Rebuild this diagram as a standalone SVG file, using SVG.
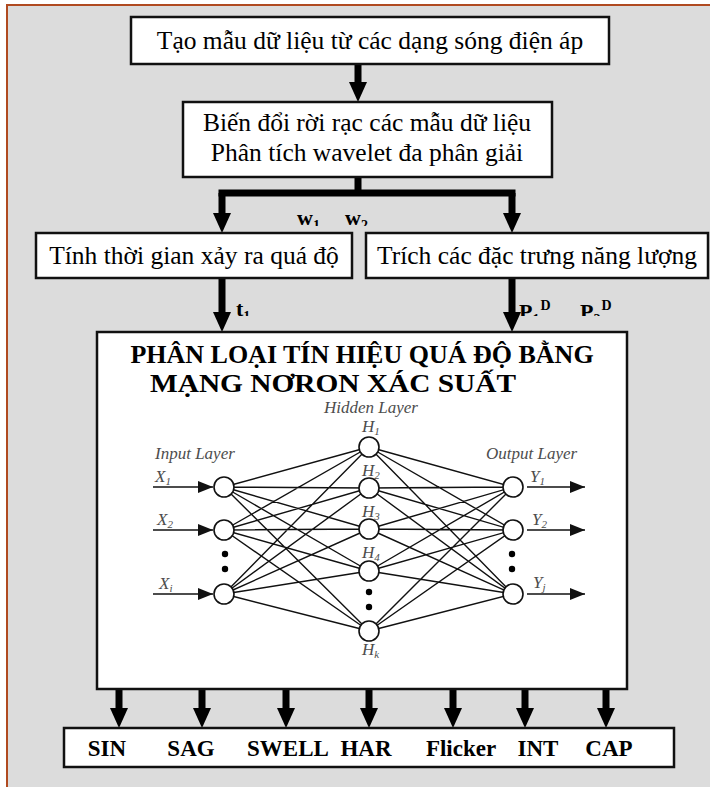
<svg xmlns="http://www.w3.org/2000/svg" width="710" height="787" viewBox="0 0 710 787">
<style>
.box{fill:#fff;stroke:#111;stroke-width:2.5}
.t{font-family:"Liberation Serif","Times New Roman",serif;font-size:25.5px;fill:#000;text-anchor:middle}
.b{font-family:"Liberation Serif","Times New Roman",serif;font-weight:bold;fill:#000}
.it{font-family:"Liberation Serif","Times New Roman",serif;font-style:italic;fill:#4d4d4d;font-size:17px}
.sub{font-size:11px}
.conn{stroke:#000;stroke-width:7;fill:none}
.edge{stroke:#111;stroke-width:1.4}
.nd{fill:#fff;stroke:#111;stroke-width:1.6}
.arr{stroke:#111;stroke-width:1.6;fill:none}
.dot{fill:#000}
</style>
<defs>
<marker id="ah" markerUnits="userSpaceOnUse" markerWidth="20" markerHeight="18" refX="0" refY="9" orient="auto">
<path d="M0,0 L20,9 L0,18 Z" fill="#000"/>
</marker>
<marker id="sh" markerUnits="userSpaceOnUse" markerWidth="15" markerHeight="12" refX="15" refY="6" orient="auto">
<path d="M0,0 L15,6 L0,12 Z" fill="#111"/>
</marker>
<clipPath id="cw"><rect x="280" y="200" width="120" height="26"/></clipPath>
<clipPath id="ct"><rect x="225" y="290" width="450" height="26"/></clipPath>
</defs>
<rect x="7" y="5" width="710" height="790" fill="#dcdcdc"/>
<path d="M7,787 V5 H710" fill="none" stroke="#b04a20" stroke-width="2"/>

<g id="connectors">
<path class="conn" d="M358,64 V82" marker-end="url(#ah)"/>
<path class="conn" d="M358,177 V193"/>
<path class="conn" d="M218.5,193 H515.5"/>
<path class="conn" d="M222,193 V213" marker-end="url(#ah)"/>
<path class="conn" d="M512,193 V213" marker-end="url(#ah)"/>
<path class="conn" d="M222,278 V312" marker-end="url(#ah)"/>
<path class="conn" d="M512,278 V312" marker-end="url(#ah)"/>
<path class="conn" d="M119,689 V708" marker-end="url(#ah)"/>
<path class="conn" d="M202,689 V708" marker-end="url(#ah)"/>
<path class="conn" d="M286,689 V708" marker-end="url(#ah)"/>
<path class="conn" d="M369,689 V708" marker-end="url(#ah)"/>
<path class="conn" d="M453,689 V708" marker-end="url(#ah)"/>
<path class="conn" d="M525,689 V708" marker-end="url(#ah)"/>
<path class="conn" d="M606,689 V708" marker-end="url(#ah)"/>
</g>

<g id="labels">
<g clip-path="url(#cw)">
<text class="b" font-size="22" x="297" y="225">w<tspan font-size="14" dy="5">1</tspan></text>
<text class="b" font-size="22" x="345" y="225">w<tspan font-size="14" dy="5">2</tspan></text>
</g>
<g clip-path="url(#ct)">
<text class="b" font-size="22" x="236" y="316">t<tspan font-size="14" dy="5">1</tspan></text>
<text class="b" font-size="22" x="519" y="319">P<tspan font-size="14" dy="5">1</tspan><tspan font-size="14" dx="1" dy="-14">D</tspan></text>
<text class="b" font-size="22" x="580" y="319">P<tspan font-size="14" dy="5">2</tspan><tspan font-size="14" dx="1" dy="-14">D</tspan></text>
</g>
</g>

<g id="box1">
<rect class="box" x="131" y="17" width="478" height="47"/>
<text class="t" font-size="26" x="370" y="49">Tạo mẫu dữ liệu từ các dạng sóng điện áp</text>
</g>
<g id="box2">
<rect class="box" x="183" y="102" width="369" height="75"/>
<text class="t" x="367" y="131">Biến đổi rời rạc các mẫu dữ liệu</text>
<text class="t" x="367" y="161">Phân tích wavelet đa phân giải</text>
</g>
<g id="box3">
<rect class="box" x="36" y="233" width="316" height="45"/>
<text class="t" x="194" y="264">Tính thời gian xảy ra quá độ</text>
</g>
<g id="box4">
<rect class="box" x="366" y="233" width="342" height="45"/>
<text class="t" x="537" y="264">Trích các đặc trưng năng lượng</text>
</g>

<g id="pnn">
<rect class="box" x="97" y="332" width="530" height="357"/>
<text class="b" font-size="26" x="362" y="363" text-anchor="middle">PHÂN LOẠI TÍN HIỆU QUÁ ĐỘ BẰNG</text>
<text class="b" font-size="26" x="150" y="392" textLength="366" lengthAdjust="spacingAndGlyphs">MẠNG NƠRON XÁC SUẤT</text>
<text class="it" x="371" y="413" text-anchor="middle">Hidden Layer</text>
<text class="it" x="155" y="459">Input Layer</text>
<text class="it" x="486" y="459">Output Layer</text>
<g id="edges">
<path class="edge" d="M224,487 L369,447 M224,487 L369,488 M224,487 L369,529 M224,487 L369,571 M224,487 L369,631
M224,530 L369,447 M224,530 L369,488 M224,530 L369,529 M224,530 L369,571 M224,530 L369,631
M224,594 L369,447 M224,594 L369,488 M224,594 L369,529 M224,594 L369,571 M224,594 L369,631
M369,447 L513,487 M369,447 L513,530 M369,447 L513,594
M369,488 L513,487 M369,488 L513,530 M369,488 L513,594
M369,529 L513,487 M369,529 L513,530 M369,529 L513,594
M369,571 L513,487 M369,571 L513,530 M369,571 L513,594
M369,631 L513,487 M369,631 L513,530 M369,631 L513,594"/>
</g>
<g id="io-arrows">
<path class="arr" d="M153,487 H213" marker-end="url(#sh)"/>
<path class="arr" d="M153,530 H213" marker-end="url(#sh)"/>
<path class="arr" d="M153,594 H213" marker-end="url(#sh)"/>
<path class="arr" d="M527,487 H585" marker-end="url(#sh)"/>
<path class="arr" d="M527,530 H585" marker-end="url(#sh)"/>
<path class="arr" d="M527,594 H585" marker-end="url(#sh)"/>
</g>
<g id="input-nodes">
<circle class="nd" cx="224" cy="487" r="10"/>
<circle class="nd" cx="224" cy="530" r="10"/>
<circle class="nd" cx="224" cy="594" r="10"/>
<circle class="dot" cx="225" cy="554" r="3.2"/>
<circle class="dot" cx="225" cy="569" r="3.2"/>
</g>
<g id="hidden-nodes">
<circle class="nd" cx="369" cy="447" r="10"/>
<circle class="nd" cx="369" cy="488" r="10"/>
<circle class="nd" cx="369" cy="529" r="10"/>
<circle class="nd" cx="369" cy="571" r="10"/>
<circle class="nd" cx="369" cy="631" r="10"/>
<circle class="dot" cx="369" cy="592" r="3.2"/>
<circle class="dot" cx="369" cy="607" r="3.2"/>
</g>
<g id="output-nodes">
<circle class="nd" cx="513" cy="487" r="10"/>
<circle class="nd" cx="513" cy="530" r="10"/>
<circle class="nd" cx="513" cy="594" r="10"/>
<circle class="dot" cx="512" cy="554" r="3.2"/>
<circle class="dot" cx="512" cy="569" r="3.2"/>
</g>
<text class="it" x="155" y="482">X<tspan class="sub" dy="3">1</tspan></text>
<text class="it" x="157" y="525">X<tspan class="sub" dy="3">2</tspan></text>
<text class="it" x="159" y="589">X<tspan class="sub" dy="3">i</tspan></text>
<text class="it" x="362" y="432">H<tspan class="sub" dy="3">1</tspan></text>
<text class="it" x="362" y="476">H<tspan class="sub" dy="3">2</tspan></text>
<text class="it" x="362" y="517">H<tspan class="sub" dy="3">3</tspan></text>
<text class="it" x="362" y="558">H<tspan class="sub" dy="3">4</tspan></text>
<text class="it" x="362" y="655">H<tspan class="sub" dy="3">k</tspan></text>
<text class="it" x="530" y="482">Y<tspan class="sub" dy="3">1</tspan></text>
<text class="it" x="532" y="525">Y<tspan class="sub" dy="3">2</tspan></text>
<text class="it" x="533" y="588">Y<tspan class="sub" dy="3">j</tspan></text>
</g>

<g id="classes">
<rect class="box" x="64" y="728" width="610" height="39"/>
<g class="b" font-size="23" text-anchor="middle">
<text x="107" y="756">SIN</text>
<text x="191" y="756">SAG</text>
<text x="288" y="756">SWELL</text>
<text x="366" y="756">HAR</text>
<text x="461" y="756">Flicker</text>
<text x="538" y="756">INT</text>
<text x="609" y="756">CAP</text>
</g>
</g>
</svg>
